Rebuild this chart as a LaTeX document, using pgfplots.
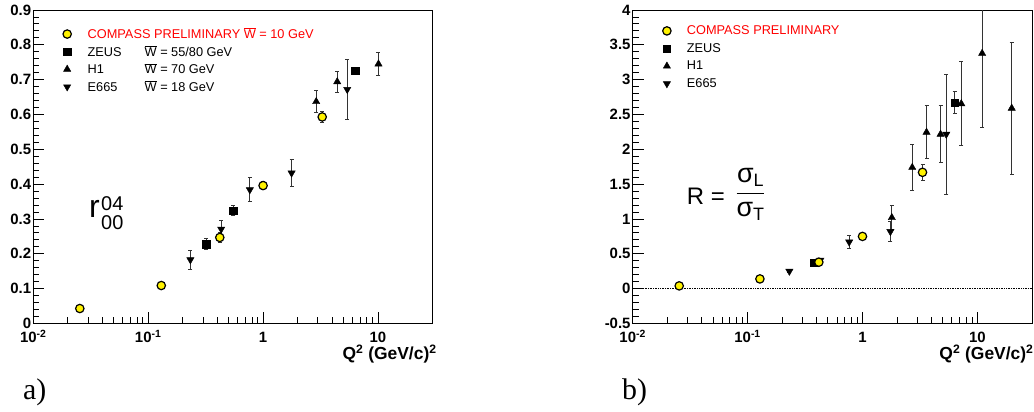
\documentclass[border=0pt]{standalone}
\usepackage{fontspec}
\setmainfont{Liberation Sans}
\newfontfamily\timesfont{Liberation Serif}
\usepackage{pgfplots}
\pgfplotsset{compat=1.18}
\pgfplotsset{
 compass/.style={only marks, mark=*, mark size=4.2bp, mark options={fill=yellow, draw=black, line width=1.2bp}},
 zeus/.style={only marks, mark=square*, mark size=3.7bp, mark options={fill=black, draw=black}},
 hone/.style={only marks, mark=triangle*, mark size=4.2bp, mark options={fill=black, draw=black}},
 eng/.style={only marks, mark=triangle*, mark size=4.2bp, mark options={fill=black, draw=black, rotate=180}},
 errs/.style={error bars/y dir=both, error bars/y explicit,
   error bars/error bar style={line width=0.9bp, black!80},
   error bars/error mark=-,
   error bars/error mark options={rotate=90, mark size=2bp, line width=0.9bp, black!80}},
}
\begin{document}
\begin{tikzpicture}
\useasboundingbox (0bp,0bp) rectangle (1034bp,412bp);
% ---------------- panel a ----------------
\begin{axis}[at={(33.3bp,88.5bp)}, anchor=south west,
  scale only axis, width=399.5bp, height=313.5bp,
  xmode=log, xmin=0.01, xmax=30,
  xtick={0.01,0.1,1,10},
  xticklabels={10\textsuperscript{-2},10\textsuperscript{-1},1,10},
  tick align=inside, xtick pos=left, ytick pos=left,
  major tick length=11bp, minor tick length=6bp,
  tick style={black, line width=0.9bp},
  minor y tick num=4,
  axis line style={line width=1bp},
  tick label style={font=\fontsize{15}{15}\selectfont\bfseries, black},
  yticklabel={\pgfmathprintnumber[assume math mode=true]{\tick}},
  xticklabel style={anchor=base, yshift=-19.5bp},
  yticklabel style={anchor=east, inner sep=0pt, xshift=-2bp},
  xlabel={Q\textsuperscript{2} (GeV/c)\textsuperscript{2}},
  every axis x label/.style={at={(axis description cs:1,0)}, anchor=base east, yshift=-36bp, xshift=4bp, inner sep=0pt, font=\fontsize{17.5}{17.5}\selectfont\bfseries},
  legend image code/.code={\path[draw=none, fill=none] (-8bp,-8.8bp) rectangle (20.5bp,8.8bp); \draw[#1] plot coordinates {(0bp,0bp)};},
  legend style={draw=none, fill=none, inner sep=0pt, column sep=0pt, row sep=0pt, nodes={inner sep=0pt, font=\fontsize{12.8}{12.8}\selectfont}, anchor=north west, at={(0.0643,0.952)}},
  legend cell align=left,
  ymin=0, ymax=0.9, ytick={0,0.1,0.2,0.3,0.4,0.5,0.6,0.7,0.8,0.9}]
\addlegendimage{compass}
\addlegendentry{\textcolor{red}{COMPASS PRELIMINARY $\overline{\hbox{W}}$ = 10 GeV}}
\addlegendimage{zeus}
\addlegendentry{\makebox[57bp][l]{ZEUS}$\overline{\hbox{W}}$ = 55/80 GeV}
\addlegendimage{hone}
\addlegendentry{\makebox[57bp][l]{H1}$\overline{\hbox{W}}$ = 70 GeV}
\addlegendimage{eng}
\addlegendentry{\makebox[57bp][l]{E665}$\overline{\hbox{W}}$ = 18 GeV}
\addplot[forget plot, zeus, errs] table[x=x, y=y, y error=e] {
x y e
0.320 0.228 0.015
0.550 0.324 0.014
6.33 0.725 0.010
};
\addplot[forget plot, hone, errs] table[x=x, y=y, y error=e] {
x y e
2.90 0.637 0.032
4.42 0.694 0.031
10.1 0.745 0.033
};
\addplot[forget plot, eng, errs] table[x=x, y=y, y error=e] {
x y e
0.233 0.183 0.027
0.432 0.271 0.025
0.767 0.384 0.034
1.77 0.432 0.039
5.40 0.672 0.086
};
\addplot[forget plot, compass, errs] table[x=x, y=y, y error=e] {
x y e
0.0254 0.043 0.005
0.130 0.109 0.006
0.420 0.247 0.015
1.00 0.396 0.012
3.27 0.593 0.017
};
\end{axis}
% ---------------- panel b ----------------
\begin{axis}[at={(632.7bp,88.5bp)}, anchor=south west,
  scale only axis, width=399.5bp, height=313.5bp,
  xmode=log, xmin=0.01, xmax=30,
  xtick={0.01,0.1,1,10},
  xticklabels={10\textsuperscript{-2},10\textsuperscript{-1},1,10},
  tick align=inside, xtick pos=left, ytick pos=left,
  major tick length=11bp, minor tick length=6bp,
  tick style={black, line width=0.9bp},
  minor y tick num=4,
  axis line style={line width=1bp},
  tick label style={font=\fontsize{15}{15}\selectfont\bfseries, black},
  yticklabel={\pgfmathprintnumber[assume math mode=true]{\tick}},
  xticklabel style={anchor=base, yshift=-19.5bp},
  yticklabel style={anchor=east, inner sep=0pt, xshift=-2bp},
  xlabel={Q\textsuperscript{2} (GeV/c)\textsuperscript{2}},
  every axis x label/.style={at={(axis description cs:1,0)}, anchor=base east, yshift=-36bp, xshift=1.5bp, inner sep=0pt, font=\fontsize{17.5}{17.5}\selectfont\bfseries},
  legend image code/.code={\path[draw=none, fill=none] (-8bp,-8.8bp) rectangle (20bp,8.8bp); \draw[#1] plot coordinates {(0bp,0bp)};},
  legend style={draw=none, fill=none, inner sep=0pt, column sep=0pt, row sep=0pt, nodes={inner sep=0pt, font=\fontsize{12.8}{12.8}\selectfont}, anchor=north west, at={(0.0651,0.962)}},
  legend cell align=left,
  ymin=-0.5, ymax=4, ytick={-0.5,0,0.5,1,1.5,2,2.5,3,3.5,4}]
\addlegendimage{compass}
\addlegendentry{\textcolor{red}{COMPASS PRELIMINARY}}
\addlegendimage{zeus}
\addlegendentry{ZEUS}
\addlegendimage{hone}
\addlegendentry{H1}
\addlegendimage{eng}
\addlegendentry{E665}
\addplot[forget plot, black, densely dotted, line width=0.7bp] coordinates {(0.01,0) (30,0)};
\addplot[forget plot, zeus, errs] table[x=x, y=y, y error=e] {
x y e
0.374 0.37 0.03
6.33 2.67 0.16
};
\addplot[forget plot, hone, errs] table[x=x, y=y, y error=e] {
x y e
1.80 1.02 0.17
2.71 1.74 0.33
3.61 2.245 0.38
4.78 2.216 0.41
7.24 2.655 0.60
11.0 3.377 1.06
19.9 2.59 0.95
};
\addplot[forget plot, eng, errs] table[x=x, y=y, y error=e] {
x y e
0.231 0.25 0.02
0.430 0.41 0.03
0.766 0.67 0.09
1.75 0.82 0.14
5.36 2.216 0.86
};
\addplot[forget plot, compass, errs] table[x=x, y=y, y error=e] {
x y e
0.0254 0.04 0.02
0.128 0.14 0.02
0.417 0.38 0.03
1.00 0.75 0.03
3.33 1.67 0.11
};
\end{axis}
% ---------------- annotations ----------------
\node[anchor=base west, inner sep=0pt] at (89bp,194bp) {\fontsize{32}{32}\selectfont r};
\node[anchor=base west, inner sep=0pt] at (101bp,201bp) {\fontsize{20}{17}\selectfont\begin{tabular}[t]{@{}l@{}}04\\00\end{tabular}};
\node[anchor=base west, inner sep=0pt] at (686.7bp,207bp) {\fontsize{24}{24}\selectfont R = \hspace{4bp}\raisebox{6bp}{$\displaystyle\frac{\hbox{\fontsize{27}{27}\selectfont σ\fontsize{18}{18}\selectfont\raisebox{-4bp}{L}}}{\hbox{\fontsize{27}{27}\selectfont σ\fontsize{18}{18}\selectfont\raisebox{-4bp}{T}}}$}};
\node[anchor=base west, inner sep=0pt] at (23bp,13bp) {\timesfont\fontsize{30}{30}\selectfont a)};
\node[anchor=base west, inner sep=0pt] at (622bp,13bp) {\timesfont\fontsize{30}{30}\selectfont b)};
\end{tikzpicture}
\end{document}
